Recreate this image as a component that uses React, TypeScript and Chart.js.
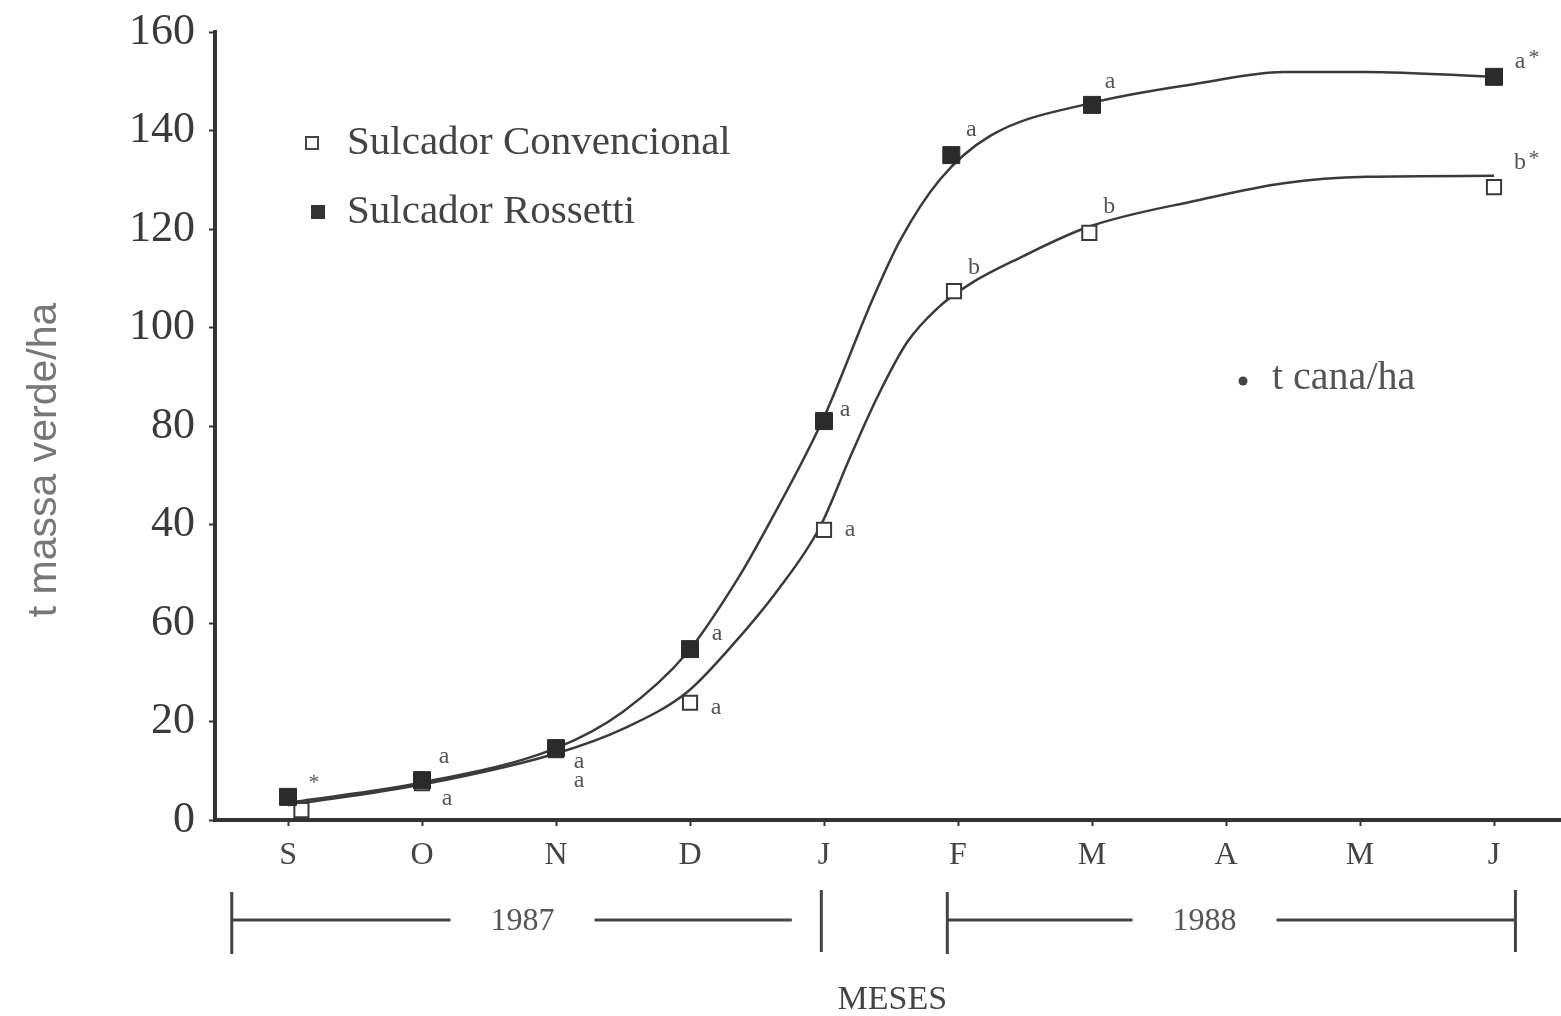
import React, { useEffect, useRef } from "react";
import { Chart, registerables } from "chart.js";

Chart.register(...registerables);

// ---- data ----
const monthLabels = ["S", "O", "N", "D", "J", "F", "M", "A", "M", "J"];
const monthIndex = [0, 1, 2, 3, 4, 5, 6, 7, 8, 9];
const yTickValues = [0, 20, 40, 60, 80, 100, 120, 140, 160];
const yTickLabels = ["0", "20", "60", "40", "80", "100", "120", "140", "160"];

const rossettiX = [0, 1, 2, 3, 4, 4.95, 6, 9];
const rossettiValues = [4.7, 8.1, 14.6, 34.7, 81.0, 135.0, 145.2, 150.9];
const rossettiLetters = ["*", "a", "a", "a", "a", "a", "a", "a*"];

const convencionalX = [0.1, 1, 2, 3, 4, 4.97, 5.98, 9];
const convencionalValues = [2.0, 7.5, 14.2, 23.8, 58.9, 107.4, 119.2, 128.5];
const convencionalLetters = ["", "a", "a", "a", "a", "b", "b", "b*"];

const rossettiCurveX = [0, 1.02, 2, 2.5, 2.98, 3.35, 3.54, 3.99, 4.37, 4.57, 4.87, 5.24, 5.98, 6.8, 7.43, 8.05, 9];
const rossettiCurveY = [3.5, 7.7, 14.6, 22, 34, 48.7, 57.7, 81.2, 106.2, 117.8, 130.2, 138.9, 145.5, 149.6, 151.9, 151.9, 150.9];

const convencionalCurveX = [0, 1.02, 2, 2.5, 2.98, 3.3, 3.65, 3.97, 4.2, 4.4, 4.62, 4.85, 5.1, 5.45, 5.98, 6.8, 7.43, 8.05, 9];
const convencionalCurveY = [3.0, 7.3, 13.5, 18.5, 26, 35, 46.5, 59.5, 74, 86, 97, 104, 109, 114, 120.5, 125.9, 129.3, 130.6, 130.8];

const yearLabels = ["1987", "1988"];
const yearStart = [-0.42, 4.92];
const yearLineEnd = [3.76, 9.16];
const yearEnd = [3.98, 9.16];
const yearLabelAt = [1.75, 6.84];

const legendLabels = ["Sulcador Convencional", "Sulcador Rossetti"];
const yTitle = "t massa verde/ha";
const xTitle = "MESES";
const noteText = "t cana/ha";

const SERIF = "'Liberation Serif', 'Times New Roman', serif";
const SANS = "'Liberation Sans', Arial, sans-serif";
const INK = "#333";

const pts = (xs: number[], ys: number[]) => xs.map((x, i) => ({ x, y: ys[i] }));

// letter offsets (px) relative to each marker
const rossettiOffsets = [[26, -10], [22, -23], [23, 14], [27, -15], [21, -11], [20, -25], [18, -23], [26, -15]];
const convencionalOffsets = [[0, 0], [25, 16], [23, 31], [26, 5], [26, 0], [20, -23], [20, -26], [26, -24]];

const zeroPad = (s: any) => {
  s.paddingLeft = 0;
  s.paddingRight = 0;
  s.paddingTop = 0;
  s.paddingBottom = 0;
};

const overlay = {
  id: "overlay",
  afterDatasetsDraw(chart: any) {
    const ctx: CanvasRenderingContext2D = chart.ctx;
    const xs = chart.scales.x;
    const area = chart.chartArea;
    ctx.save();
    ctx.fillStyle = "#555";
    ctx.strokeStyle = INK;

    const drawLetter = (t: string, x: number, y: number) => {
      if (!t) return;
      const letter = t.replace("*", "");
      const star = t.includes("*");
      ctx.font = `24px ${SERIF}`;
      ctx.textAlign = "center";
      ctx.textBaseline = "middle";
      if (letter) ctx.fillText(letter, x, y);
      if (star) {
        ctx.font = `22px ${SERIF}`;
        ctx.fillText("*", x + (letter ? 14 : 0), y - 4);
      }
    };

    const metaR = chart.getDatasetMeta(0);
    metaR.data.forEach((el: any, i: number) => {
      const [dx, dy] = rossettiOffsets[i];
      drawLetter(rossettiLetters[i], el.x + dx, el.y + dy);
    });
    const metaC = chart.getDatasetMeta(1);
    metaC.data.forEach((el: any, i: number) => {
      const [dx, dy] = convencionalOffsets[i];
      drawLetter(convencionalLetters[i], el.x + dx, el.y + dy);
    });

    // legend
    ctx.fillStyle = "#444";
    ctx.font = `41px ${SERIF}`;
    ctx.textAlign = "left";
    ctx.textBaseline = "middle";
    ctx.lineWidth = 2;
    ctx.strokeStyle = "#444";
    ctx.strokeRect(306, 137, 12, 12);
    ctx.fillText(legendLabels[0], 347, 143);
    ctx.fillStyle = "#333";
    ctx.fillRect(311, 205, 14, 14);
    ctx.fillStyle = "#444";
    ctx.fillText(legendLabels[1], 347, 212);

    // note
    ctx.fillStyle = "#444";
    ctx.beginPath();
    ctx.arc(1243, 381, 4.5, 0, Math.PI * 2);
    ctx.fill();
    ctx.fillStyle = "#555";
    ctx.font = `40px ${SERIF}`;
    ctx.fillText(noteText, 1272, 378);

    // y title
    ctx.save();
    ctx.translate(45, 460);
    ctx.rotate(-Math.PI / 2);
    ctx.font = `41px ${SANS}`;
    ctx.fillStyle = "#777";
    ctx.textAlign = "center";
    ctx.textBaseline = "middle";
    ctx.fillText(yTitle, 0, 0);
    ctx.restore();

    // year brackets
    const by = area.bottom + 100;
    ctx.strokeStyle = "#444";
    ctx.fillStyle = "#555";
    ctx.font = `32px ${SERIF}`;
    ctx.textAlign = "center";
    yearLabels.forEach((lab, i) => {
      const x0 = xs.getPixelForValue(yearStart[i]);
      const x1 = xs.getPixelForValue(yearEnd[i]);
      const xl = xs.getPixelForValue(yearLineEnd[i]);
      const xc = xs.getPixelForValue(yearLabelAt[i]);
      const w = ctx.measureText(lab).width;
      ctx.lineWidth = 3;
      ctx.beginPath();
      ctx.moveTo(x0, by);
      ctx.lineTo(xc - w / 2 - 40, by);
      ctx.moveTo(xc + w / 2 + 40, by);
      ctx.lineTo(xl, by);
      ctx.stroke();
      ctx.beginPath();
      ctx.moveTo(x0, by - 28);
      ctx.lineTo(x0, by + 34);
      ctx.moveTo(x1, by - 30);
      ctx.lineTo(x1, by + 32);
      ctx.stroke();
      ctx.fillText(lab, xc, by + 2);
    });

    // x title
    ctx.font = `34px ${SERIF}`;
    ctx.fillStyle = "#444";
    ctx.fillText(xTitle, xs.getPixelForValue(4.51), area.bottom + 180);
    ctx.restore();
  },
};

export default function App() {
  const ref = useRef<HTMLCanvasElement | null>(null);
  useEffect(() => {
    if (!ref.current) return;
    const chart = new Chart(ref.current, {
      type: "line",
      data: {
        datasets: [
          {
            label: legendLabels[1],
            data: pts(rossettiX, rossettiValues),
            showLine: false,
            pointStyle: "rect",
            pointRadius: 12,
            pointHoverRadius: 12,
            backgroundColor: "#2b2b2b",
            borderColor: "#2b2b2b",
            pointBorderWidth: 1,
          },
          {
            label: legendLabels[0],
            data: pts(convencionalX, convencionalValues),
            showLine: false,
            pointStyle: "rect",
            pointRadius: 10,
            pointHoverRadius: 10,
            backgroundColor: "#fff",
            borderColor: "#3a3a3a",
            pointBorderWidth: 2,
          },
          {
            label: "curve R",
            data: pts(rossettiCurveX, rossettiCurveY),
            borderColor: "#3a3a3a",
            borderWidth: 2.5,
            pointRadius: 0,
            cubicInterpolationMode: "monotone",
            fill: false,
          },
          {
            label: "curve C",
            data: pts(convencionalCurveX, convencionalCurveY),
            borderColor: "#3a3a3a",
            borderWidth: 2.5,
            pointRadius: 0,
            cubicInterpolationMode: "monotone",
            fill: false,
          },
        ],
      },
      options: {
        animation: false,
        responsive: false,
        maintainAspectRatio: false,
        layout: { padding: { top: 32, left: 0, right: 0, bottom: 0 } },
        plugins: { legend: { display: false }, title: { display: false }, tooltip: { enabled: false } },
        scales: {
          x: {
            type: "linear",
            min: -0.545,
            max: 9.5,
            afterFit: (s: any) => {
              s.height = 196;
              zeroPad(s);
            },
            afterBuildTicks: (s: any) => {
              s.ticks = monthIndex.map((v) => ({ value: v }));
            },
            ticks: {
              callback: (v: any) => monthLabels[Math.round(Number(v))] ?? "",
              font: { family: SERIF, size: 32 },
              color: "#444",
              padding: 10,
              maxRotation: 0,
              autoSkip: false,
            },
            grid: { display: true, drawOnChartArea: false, drawTicks: true, tickLength: 6, tickWidth: 2, color: INK },
            border: { display: true, color: INK, width: 4 },
          },
          y: {
            type: "linear",
            min: 0,
            max: 160,
            afterFit: (s: any) => {
              s.width = 215;
              zeroPad(s);
            },
            afterBuildTicks: (s: any) => {
              s.ticks = yTickValues.map((v) => ({ value: v }));
            },
            ticks: {
              callback: (_v: any, i: number) => yTickLabels[i],
              font: { family: SERIF, size: 44 },
              color: "#3a3a3a",
              padding: 14,
            },
            grid: { display: true, drawOnChartArea: false, drawTicks: true, tickLength: 6, tickWidth: 2, color: INK },
            border: { display: true, color: INK, width: 4 },
          },
        },
      },
      plugins: [overlay],
    } as any);
    return () => chart.destroy();
  }, []);
  return (
    <div style={{ position: "fixed", left: 0, top: 0, width: 1561, height: 1016, background: "#fff", overflow: "hidden" }}>
      <canvas ref={ref} width={1574} height={1016} style={{ display: "block" }} />
    </div>
  );
}
